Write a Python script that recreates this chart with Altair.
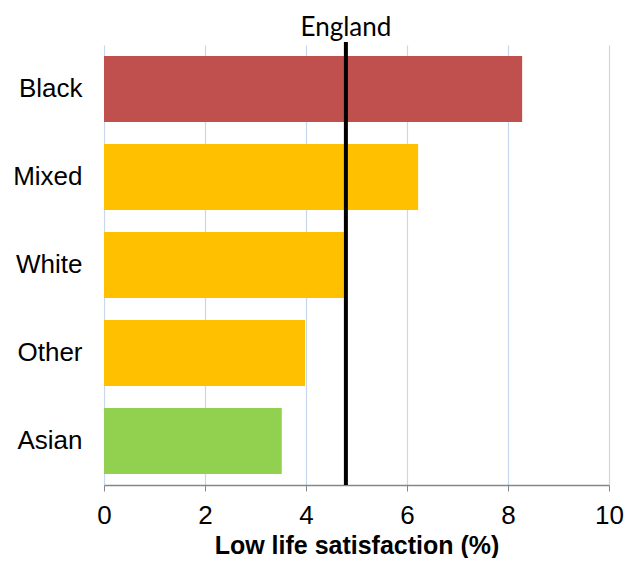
import altair as alt
import pandas as pd

groups = ["Black", "Mixed", "White", "Other", "Asian"]
values = [8.28, 6.22, 4.75, 3.98, 3.52]
colors = ["#C0504D", "#FFC000", "#FFC000", "#FFC000", "#92D050"]
england_value = 4.79
england_label = "England"

df = pd.DataFrame({"group": groups, "value": values, "color": colors})
ref = pd.DataFrame({"value": [england_value], "label": [england_label]})

x_scale = alt.Scale(domain=[0, 10], nice=False)

bars = alt.Chart(df).mark_bar().encode(
    y=alt.Y("group:N", sort=groups, scale=alt.Scale(paddingInner=0.25, paddingOuter=0.125),
            axis=alt.Axis(title=None, labelFontSize=26, labelFont="Liberation Sans",
                          labelColor="#000000", labelPadding=22, ticks=False, domain=False)),
    x=alt.X("value:Q", scale=x_scale,
            axis=alt.Axis(title="Low life satisfaction (%)", values=[0, 2, 4, 6, 8, 10],
                          labelFontSize=26, labelFont="Liberation Sans", labelColor="#000000",
                          labelPadding=11, labelFlush=False, tickSize=6, tickColor="#868686",
                          domainColor="#868686", domainWidth=1.5, gridColor="#C9D7EC",
                          gridWidth=1.2, titleFontSize=25, titleFont="Liberation Sans",
                          titleFontWeight="bold", titleColor="#000000", titlePadding=5)),
    color=alt.Color("color:N", scale=None),
)

rule = alt.Chart(ref).mark_rule(color="#000000", strokeWidth=4).encode(
    x=alt.X("value:Q", scale=x_scale),
    y=alt.value(-3),
    y2=alt.value(440),
)

label = alt.Chart(ref).mark_text(fontSize=26, font="Lato", color="#000000", baseline="middle").encode(
    x=alt.X("value:Q", scale=x_scale),
    y=alt.value(-17),
    text="label:N",
)

chart = (bars + rule + label).properties(
    width=505, height=440,
    autosize=alt.AutoSizeParams(type="none"),
    padding={"left": 96, "top": 37, "right": 20, "bottom": 73},
).configure_view(stroke=None).configure_axisY(grid=False)

chart.save("out.html", embed_options={"renderer": "svg", "actions": False})
